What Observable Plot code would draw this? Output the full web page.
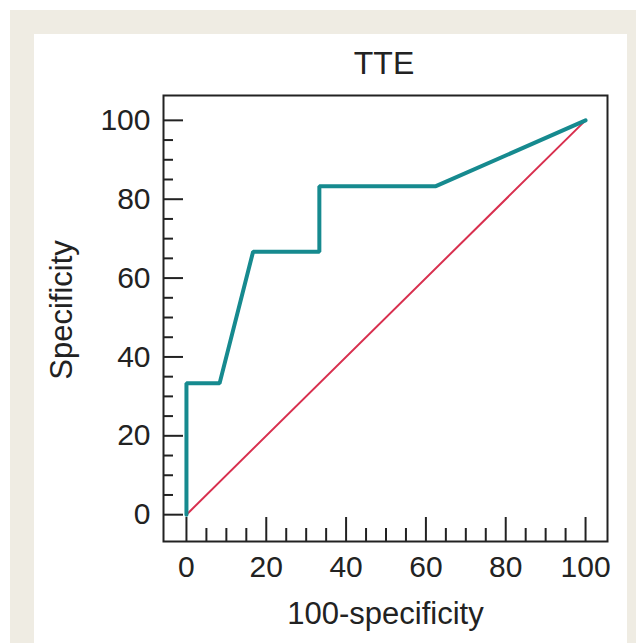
<!DOCTYPE html>
<html><head><meta charset="utf-8">
<script src="https://cdn.jsdelivr.net/npm/d3@7"></script>
<script src="https://cdn.jsdelivr.net/npm/@observablehq/plot@0.6"></script>
<style>
body{margin:0;background:#fff;font-family:"Liberation Sans",Arial,sans-serif;}
#bg{position:absolute;left:10px;top:10px;width:626px;height:633px;background:#efece3;}
#panel{position:absolute;left:34px;top:34px;width:593px;height:609px;background:#fff;}
#title{position:absolute;left:284px;width:200px;top:47px;text-align:center;font-size:32px;line-height:32px;color:#222;}
#chart{position:absolute;left:0;top:90px;}
</style></head><body>
<div id="bg"></div><div id="panel"></div><div id="title"></div><div id="chart"></div>
<script>
const titleText = "TTE";
const xLabel = "100-specificity";
const yLabel = "Specificity";
const tteX = [0, 0, 8.3, 16.7, 33.3, 33.3, 62.5, 100];
const tteY = [0, 33.3, 33.3, 66.7, 66.7, 83.3, 83.3, 100];
const refX = [0, 100];
const refY = [0, 100];
const majorTicks = [0, 20, 40, 60, 80, 100];
const minorTicks = [5, 10, 15, 25, 30, 35, 45, 50, 55, 65, 70, 75, 85, 90, 95];

document.getElementById("title").textContent = titleText;

const tte = tteX.map((x, i) => ({x, y: tteY[i]}));
const ref = refX.map((x, i) => ({x, y: refY[i]}));
const blank = () => "";

const chart = Plot.plot({
  width: 636, height: 553,
  marginLeft: 163, marginRight: 29, marginTop: 5, marginBottom: 102,
  x: {domain: [-5.75, 105.5], label: null},
  y: {domain: [-6.8, 106.3], label: null},
  style: {fontFamily: "'Liberation Sans', Arial, sans-serif", background: "transparent", color: "#222", overflow: "visible"},
  marks: [
    Plot.line(ref, {x: "x", y: "y", stroke: "#d8304f", strokeWidth: 2}),
    Plot.line(tte, {x: "x", y: "y", stroke: "#168a8f", strokeWidth: 4, strokeLinejoin: "miter"}),
    Plot.axisX(minorTicks, {tickSize: -13, tickFormat: blank, strokeWidth: 2, label: null}),
    Plot.axisX(majorTicks, {tickSize: -24, tickFormat: blank, strokeWidth: 2, label: null}),
    Plot.axisX(majorTicks, {tickSize: 0, tickPadding: 14, fontSize: 30, label: null}),
    Plot.axisY(minorTicks, {tickSize: -10, tickFormat: blank, strokeWidth: 2, label: null}),
    Plot.axisY(majorTicks, {tickSize: -20, tickFormat: blank, strokeWidth: 2, label: null}),
    Plot.axisY(majorTicks, {tickSize: 0, tickPadding: 13, fontSize: 30, label: null}),
    Plot.frame({stroke: "#222", strokeWidth: 2}),
    Plot.text([xLabel], {text: d => d, frameAnchor: "bottom", dy: 73, fontSize: 31, textAnchor: "middle", lineAnchor: "middle", fill: "#222"}),
    Plot.text([yLabel], {text: d => d, frameAnchor: "left", dx: -101, dy: -8.5, rotate: -90, fontSize: 31, textAnchor: "middle", lineAnchor: "middle", fill: "#222"})
  ]
});
document.getElementById("chart").appendChild(chart);
</script>
</body></html>
